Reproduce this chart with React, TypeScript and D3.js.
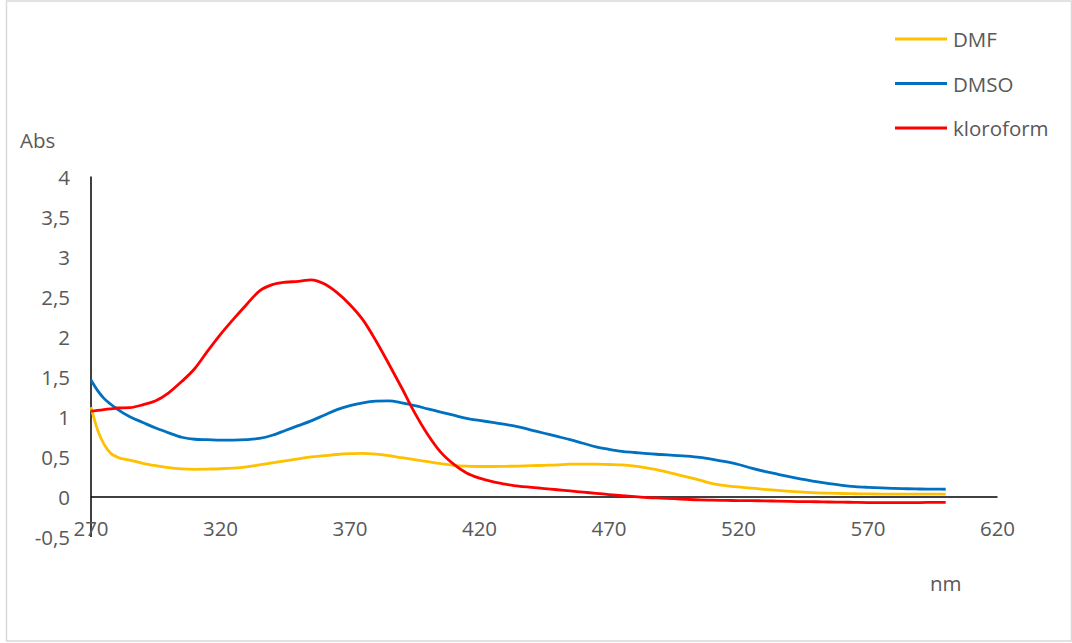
import React from "react";
import * as d3 from "d3";

const wavelengths = [270, 272.5, 275, 277.5, 280, 285, 290, 295, 300, 305, 310, 315, 320, 325, 330, 335, 340, 345, 350, 355, 360, 365, 370, 375, 380, 385, 390, 395, 400, 405, 410, 415, 420, 425, 430, 435, 440, 445, 450, 455, 460, 465, 470, 475, 480, 485, 490, 495, 500, 505, 510, 515, 520, 525, 530, 535, 540, 545, 550, 555, 560, 565, 570, 575, 580, 585, 590, 595, 600];

const dmf = [1.12, 0.84, 0.66, 0.55, 0.5, 0.46, 0.42, 0.39, 0.365, 0.35, 0.345, 0.348, 0.352, 0.36, 0.375, 0.4, 0.425, 0.45, 0.475, 0.5, 0.515, 0.53, 0.54, 0.545, 0.535, 0.515, 0.49, 0.465, 0.44, 0.415, 0.395, 0.385, 0.38, 0.38, 0.382, 0.385, 0.39, 0.395, 0.4, 0.41, 0.41, 0.41, 0.405, 0.4, 0.385, 0.36, 0.33, 0.29, 0.25, 0.21, 0.165, 0.14, 0.125, 0.11, 0.095, 0.082, 0.07, 0.06, 0.052, 0.047, 0.043, 0.04, 0.038, 0.036, 0.035, 0.034, 0.034, 0.034, 0.034];

const dmso = [1.46, 1.33, 1.23, 1.16, 1.1, 1.0, 0.93, 0.86, 0.8, 0.745, 0.72, 0.715, 0.71, 0.71, 0.715, 0.73, 0.77, 0.83, 0.89, 0.95, 1.02, 1.09, 1.14, 1.175, 1.195, 1.2, 1.175, 1.14, 1.1, 1.06, 1.02, 0.98, 0.955, 0.93, 0.905, 0.875, 0.835, 0.795, 0.755, 0.715, 0.67, 0.625, 0.595, 0.57, 0.555, 0.54, 0.53, 0.52, 0.51, 0.495, 0.47, 0.44, 0.405, 0.36, 0.32, 0.285, 0.25, 0.22, 0.19, 0.165, 0.145, 0.13, 0.12, 0.112, 0.106, 0.102, 0.099, 0.097, 0.096];

const kloroform = [1.07, 1.08, 1.09, 1.1, 1.11, 1.115, 1.15, 1.2, 1.3, 1.44, 1.6, 1.82, 2.03, 2.22, 2.4, 2.57, 2.65, 2.68, 2.69, 2.71, 2.66, 2.55, 2.4, 2.21, 1.95, 1.66, 1.36, 1.05, 0.78, 0.56, 0.41, 0.3, 0.235, 0.19, 0.16, 0.135, 0.12, 0.105, 0.09, 0.075, 0.06, 0.045, 0.03, 0.015, 0.003, -0.008, -0.015, -0.022, -0.03, -0.037, -0.04, -0.043, -0.045, -0.047, -0.048, -0.052, -0.056, -0.058, -0.06, -0.063, -0.065, -0.068, -0.07, -0.07, -0.071, -0.072, -0.07, -0.068, -0.067];

const seriesNames = ["DMF", "DMSO", "kloroform"];
const seriesColors = ["#FFC000", "#0070C0", "#FF0000"];
const seriesValues = [dmf, dmso, kloroform];

const xTicks = [270, 320, 370, 420, 470, 520, 570, 620];
const yTicks = [-0.5, 0, 0.5, 1, 1.5, 2, 2.5, 3, 3.5, 4];

const W = 1072;
const H = 643;
const FONT = "'Open Sans', 'Liberation Sans', sans-serif";
const TEXT = "#595959";
const FS = 20.5;

export default function App() {
  const x = d3.scaleLinear().domain([270, 620]).range([91, 997.5]);
  const y = d3.scaleLinear().domain([-0.5, 4]).range([537, 176.5]);
  const line = d3
    .line<[number, number]>()
    .x((d) => x(d[0]))
    .y((d) => y(d[1]))
    .curve(d3.curveMonotoneX);

  const fmt = (v: number) => String(v).replace(".", ",");

  return (
    <svg
      width={W}
      height={H}
      style={{ position: "absolute", left: 0, top: 0, background: "#fff" }}
      fontFamily={FONT}
    >
      <rect x={6.5} y={1} width={1065} height={640} fill="#fff" stroke="#d9d9d9" strokeWidth={1.5} />

      {/* axes */}
      <line x1={x(270)} x2={x(270)} y1={y(4)} y2={y(-0.5)} stroke="#000" strokeWidth={1.5} />
      <line x1={x(270)} x2={x(620)} y1={y(0)} y2={y(0)} stroke="#000" strokeWidth={1.5} />

      {yTicks.map((t) => (
        <text
          key={"y" + t}
          x={70}
          y={y(t)}
          textAnchor="end"
          dominantBaseline="central"
          fontSize={FS}
          fill={TEXT}
        >
          {fmt(t)}
        </text>
      ))}
      {xTicks.map((t) => (
        <text
          key={"x" + t}
          x={x(t)}
          y={528}
          textAnchor="middle"
          dominantBaseline="central"
          fontSize={FS}
          fill={TEXT}
        >
          {t}
        </text>
      ))}

      <text x={20} y={140} dominantBaseline="central" fontSize={FS} fill={TEXT}>
        Abs
      </text>
      <text x={930} y={583} dominantBaseline="central" fontSize={FS} fill={TEXT}>
        nm
      </text>

      {seriesValues.map((vals, i) => (
        <path
          key={seriesNames[i]}
          d={line(wavelengths.map((w, j) => [w, vals[j]] as [number, number])) || ""}
          fill="none"
          stroke={seriesColors[i]}
          strokeWidth={2.8}
          strokeLinejoin="round"
        />
      ))}

      {seriesNames.map((name, i) => {
        const ly = 39 + i * 44.5;
        return (
          <g key={"leg" + name}>
            <line x1={895} x2={947} y1={ly} y2={ly} stroke={seriesColors[i]} strokeWidth={2.8} />
            <text x={953} y={ly} dominantBaseline="central" fontSize={FS} fill={TEXT}>
              {name}
            </text>
          </g>
        );
      })}
    </svg>
  );
}
